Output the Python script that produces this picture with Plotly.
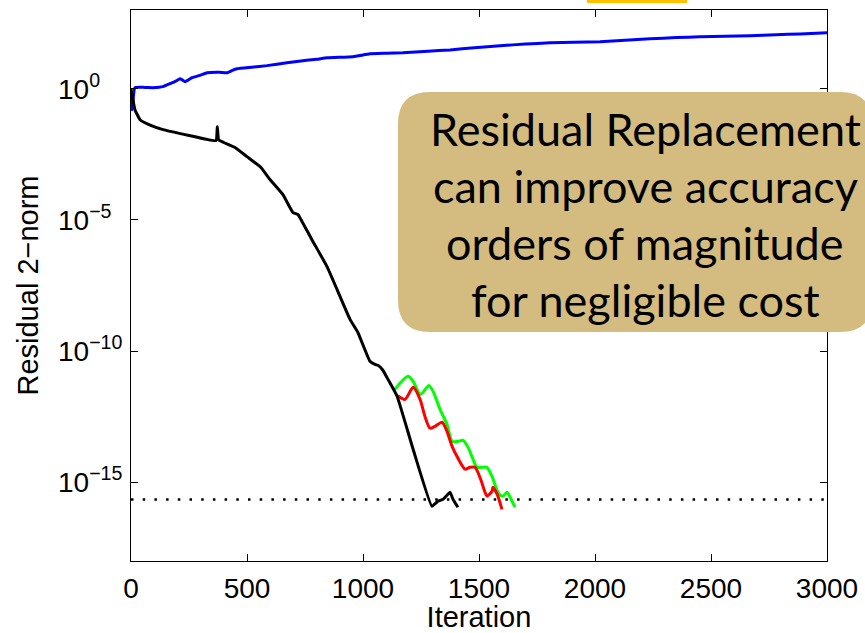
import plotly.graph_objects as go

# ---- data ----
blue_iter = [0, 5, 17, 60, 95, 138, 168, 195, 211, 222, 233, 263, 300, 328, 380, 414, 437, 457,
             520, 586, 672, 741, 800, 845, 957, 1030, 1100, 1172, 1280, 1375, 1480, 1591, 1700,
             1806, 1910, 2022, 2130, 2237, 2350, 2453, 2560, 2668, 2780, 2884, 3000]
blue_log = [-0.3, -0.8, 0.04, 0.05, 0.04, 0.08, 0.19, 0.30, 0.38, 0.33, 0.27, 0.42, 0.52, 0.61,
            0.63, 0.61, 0.70, 0.76, 0.82, 0.88, 0.99, 1.07, 1.12, 1.18, 1.22, 1.33, 1.35, 1.37,
            1.43, 1.48, 1.56, 1.64, 1.70, 1.75, 1.77, 1.79, 1.85, 1.90, 1.95, 1.98, 2.00, 2.02,
            2.06, 2.09, 2.13]

black_iter = [0, 10, 17, 39, 80, 138, 250, 366, 372, 378, 400, 450, 500, 560, 599, 655, 698,
              720, 737, 784, 845, 888, 944, 978, 1030, 1052, 1066, 1085, 1108, 1147, 1216,
              1297, 1323, 1345, 1375, 1388, 1409]
black_log = [0.0, -0.5, -0.8, -1.18, -1.38, -1.56, -1.78, -1.98, -1.45, -1.95, -2.05, -2.25,
             -2.59, -3.0, -3.46, -4.04, -4.72, -4.80, -5.06, -5.82, -6.78, -7.65, -8.79, -9.29,
             -10.39, -10.51, -10.55, -10.72, -11.08, -11.72, -13.74, -15.91, -15.72, -15.65,
             -15.38, -15.65, -15.95]

green_iter = [1133, 1194, 1216, 1246, 1259, 1284, 1302, 1332, 1362, 1384, 1409, 1431, 1453,
              1474, 1491, 1513, 1534, 1556, 1582, 1603, 1621, 1634, 1655]
green_log = [-11.5, -10.96, -11.15, -11.65, -11.57, -11.31, -11.53, -12.22, -12.79, -13.44,
             -13.44, -13.40, -13.67, -14.12, -14.43, -14.43, -14.43, -14.77, -15.38, -15.53,
             -15.38, -15.57, -15.95]

red_iter = [1150, 1181, 1216, 1246, 1267, 1289, 1310, 1341, 1362, 1384, 1405, 1440, 1461,
            1483, 1504, 1526, 1534, 1556, 1560, 1578, 1599]
red_log = [-11.7, -11.84, -11.38, -11.84, -12.49, -12.94, -12.87, -12.71, -13.06, -13.63,
           -14.01, -14.50, -14.43, -14.43, -14.81, -15.38, -15.53, -15.34, -15.19, -15.45,
           -16.03]

eps_iter = [0, 3000]
eps_val = [2.22e-16, 2.22e-16]

x_ticks = [0, 500, 1000, 1500, 2000, 2500, 3000]
y_tick_exp = [-15, -10, -5, 0]
y_ticktext = ["10<sup>\u221215</sup>", "10<sup>\u221210</sup>", "10<sup>\u22125</sup>", "10<sup>0</sup>"]

box_lines = ["Residual Replacement", "can improve accuracy", "orders of magnitude",
             "for negligible cost"]

# ---- figure ----
W, H = 865, 633
ML, MR, MT, MB = 131, 38, 10, 72
PW, PH = W - ML - MR, H - MT - MB


def px(xp):
    return (xp - ML) / PW


def py(yp):
    return (H - MB - yp) / PH


fig = go.Figure()
fig.add_trace(go.Scatter(x=eps_iter, y=eps_val, mode="lines",
                         line=dict(color="black", width=2.5, dash="2.5px,9.2px")))
fig.add_trace(go.Scatter(x=blue_iter, y=[10 ** v for v in blue_log], mode="lines",
                         line=dict(color="#0000ff", width=3, shape="spline", smoothing=0.4)))
fig.add_trace(go.Scatter(x=green_iter, y=[10 ** v for v in green_log], mode="lines",
                         line=dict(color="#00ff00", width=3, shape="spline", smoothing=0.7)))
fig.add_trace(go.Scatter(x=red_iter, y=[10 ** v for v in red_log], mode="lines",
                         line=dict(color="#ff0000", width=3, shape="spline", smoothing=0.7)))
fig.add_trace(go.Scatter(x=black_iter, y=[10 ** v for v in black_log], mode="lines",
                         line=dict(color="black", width=3, shape="spline", smoothing=0.35)))

# rounded annotation box (pixel geometry converted to paper coordinates)
L, R, T, B, r = 398, 872, 92, 332, 32
path = (f"M {px(L + r)} {py(T)} L {px(R - r)} {py(T)} Q {px(R)} {py(T)} {px(R)} {py(T + r)} "
        f"L {px(R)} {py(B - r)} Q {px(R)} {py(B)} {px(R - r)} {py(B)} "
        f"L {px(L + r)} {py(B)} Q {px(L)} {py(B)} {px(L)} {py(B - r)} "
        f"L {px(L)} {py(T + r)} Q {px(L)} {py(T)} {px(L + r)} {py(T)} Z")
shapes = [
    dict(type="path", xref="paper", yref="paper", path=path, fillcolor="#d4bc80",
         line=dict(width=0), layer="above"),
    dict(type="rect", xref="paper", yref="paper", x0=px(587), x1=px(687), y0=py(3), y1=py(0),
         fillcolor="#ffc000", line=dict(width=0), layer="above"),
]

tick_font = dict(family="Liberation Sans, Arial, Helvetica", size=28, color="black")
title_font = dict(family="Liberation Sans, Arial, Helvetica", size=29, color="black")

annotations = []
line_centers = [129, 186, 243, 300]
for txt, yc in zip(box_lines, line_centers):
    annotations.append(dict(text=txt, xref="paper", yref="paper", x=px(645), y=py(yc),
                            xanchor="center", yanchor="middle", showarrow=False,
                            font=dict(family="Lato, Carlito, Noto Sans", size=45, color="black")))
# y tick labels, left-aligned on the "10" like the reference
for e, txt in zip(y_tick_exp, y_ticktext):
    annotations.append(dict(text=txt, xref="paper", yref="y", x=px(56), y=e,
                            xanchor="left", yanchor="middle", yshift=2, showarrow=False,
                            font=tick_font))

fig.update_layout(
    width=W, height=H, margin=dict(l=ML, r=MR, t=MT, b=MB, autoexpand=False),
    paper_bgcolor="white", plot_bgcolor="white", showlegend=False,
    shapes=shapes, annotations=annotations,
    xaxis=dict(range=[0, 3000], tickvals=x_ticks, ticks="inside", ticklen=7, tickcolor="black",
               showline=True, linecolor="black", linewidth=1, mirror="ticks", showgrid=False,
               zeroline=False, tickfont=tick_font, ticklabelstandoff=2, automargin=False,
               title=dict(text="Iteration", font=title_font, standoff=14)),
    yaxis=dict(type="log", range=[-18, 3], tickvals=[10.0 ** e for e in y_tick_exp],
               showticklabels=False,
               ticks="inside", ticklen=7, tickcolor="black", showline=True, linecolor="black",
               linewidth=1, mirror="ticks", showgrid=False, zeroline=False, automargin=False,
               title=dict(text="Residual 2\u2212norm", font=title_font, standoff=82)),
)

fig.write_html("out.html")
